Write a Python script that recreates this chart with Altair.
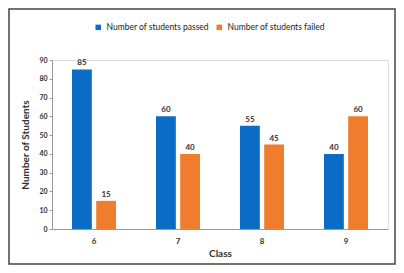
import altair as alt
import pandas as pd

classes = ["6", "7", "8", "9"]
passed = [85, 60, 55, 40]
failed = [15, 40, 45, 60]
series = ["Number of students passed", "Number of students failed"]
colors = ["#0A6CC4", "#EF7D2D"]
y_ticks = [0, 10, 20, 30, 40, 50, 60, 70, 80, 90]

rows = []
for c, p, f in zip(classes, passed, failed):
    rows.append({"Class": c, "Series": series[0], "Value": p})
    rows.append({"Class": c, "Series": series[1], "Value": f})
df = pd.DataFrame(rows)

FONT = "Lato"

x = alt.X("Class:N", sort=classes, title="Class",
          scale=alt.Scale(paddingInner=0.476, paddingOuter=0.238),
          axis=alt.Axis(labelAngle=0, labelFontSize=8, labelFontWeight="bold",
                        labelColor="#333", titleFontSize=10, titleFontWeight="bold",
                        titleColor="#333", ticks=False, domainColor="#999",
                        labelPadding=8, titlePadding=3))
xo = alt.XOffset("Series:N", sort=series,
                 scale=alt.Scale(paddingInner=0.18, paddingOuter=0))

y = alt.Y("Value:Q", title="Number of Students",
          scale=alt.Scale(domain=[0, 90]),
          axis=alt.Axis(values=y_ticks, grid=False,
                        labelOverlap=False, labelFontSize=7, labelFontWeight="bold",
                        labelColor="#333", titleFontSize=10, titleFontWeight="bold",
                        titleColor="#333", tickSize=3, tickColor="#999",
                        domainColor="#999", titlePadding=8))

bars = alt.Chart(df).mark_bar().encode(
    x=x,
    xOffset=xo,
    y=y,
    color=alt.Color("Series:N", sort=series,
                    scale=alt.Scale(domain=series, range=colors),
                    legend=alt.Legend(title=None, orient="none", direction="horizontal",
                                      legendX=42, legendY=-37, symbolType="square",
                                      symbolSize=30, labelFontSize=8.5,
                                      labelColor="#222", columnPadding=6,
                                      symbolStrokeWidth=0, labelFont=FONT)),
)

labels = alt.Chart(df).mark_text(dy=-6, fontSize=8, fontWeight="bold",
                                 color="#333", font=FONT).encode(
    x=x,
    xOffset=xo,
    y=y,
    text="Value:Q",
)

border = alt.Chart(pd.DataFrame({"a": [0]})).mark_rect(
    fill=None, stroke="#444", strokeWidth=1.5, clip=False
).encode(x=alt.value(-43), x2=alt.value(343), y=alt.value(-51), y2=alt.value(204))

chart = alt.layer(border, bars, labels).properties(
    width=336, height=169,
    autosize=alt.AutoSizeParams(type="none"),
    padding={"left": 44, "top": 52, "right": 8, "bottom": 36},
).configure_view(stroke=None).configure(font=FONT, background="white")

chart.save("out.html", embed_options={"renderer": "svg", "actions": False})
